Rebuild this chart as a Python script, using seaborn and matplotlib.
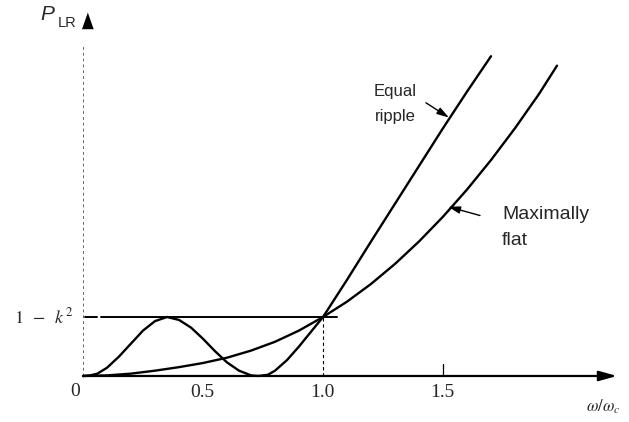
import numpy as np
import pandas as pd
import matplotlib
matplotlib.use("Agg")
import matplotlib.pyplot as plt
import seaborn as sns

# Normalised frequency samples and power-loss ratio (in units of the 1 - k^2 level)
ripple_w = [0.0, 0.03, 0.06, 0.10, 0.15, 0.20, 0.25, 0.30, 0.35, 0.40, 0.45, 0.50,
            0.55, 0.60, 0.65, 0.70, 0.73, 0.77, 0.80, 0.85, 0.90, 0.95, 1.00,
            1.10, 1.20, 1.30, 1.40, 1.50, 1.60, 1.70]
ripple_p = [0.0, 0.01, 0.04, 0.14, 0.33, 0.55, 0.77, 0.93, 1.00, 0.95, 0.82, 0.63,
            0.42, 0.23, 0.09, 0.01, 0.00, 0.02, 0.09, 0.27, 0.50, 0.75, 1.00,
            1.63, 2.28, 2.92, 3.56, 4.20, 4.82, 5.42]

flat_w = [0.0, 0.1, 0.2, 0.3, 0.4, 0.5, 0.6, 0.7, 0.8, 0.9, 1.0,
          1.1, 1.2, 1.3, 1.4, 1.5, 1.6, 1.7, 1.8, 1.9, 1.975]
flat_p = [0.0, 0.01, 0.04, 0.09, 0.15, 0.22, 0.31, 0.43, 0.58, 0.77, 1.00,
          1.26, 1.56, 1.90, 2.28, 2.70, 3.16, 3.66, 4.20, 4.78, 5.26]

ripple_level = 1.0
x_ticks = [0.5, 1.0, 1.5]
x_tick_labels = ["0.5", "1.0", "1.5"]

df = pd.concat([
    pd.DataFrame({"w": ripple_w, "p": ripple_p, "kind": "Equal ripple"}),
    pd.DataFrame({"w": flat_w, "p": flat_p, "kind": "Maximally flat"}),
])

sns.set_theme(style="white")
plt.rcParams["mathtext.fontset"] = "stix"

fig = plt.figure(figsize=(6.29, 4.22), dpi=100)
ax = fig.add_axes([0, 0, 1, 1])
ax.set_xlim(-0.346, 2.275)
ax.set_ylim(-0.78, 6.373)
ax.set_axis_off()

sns.lineplot(data=df, x="w", y="p", hue="kind", palette=["black", "black"],
             linewidth=1.7, legend=False, sort=False, ax=ax, estimator=None)

serif = "Liberation Serif"
sans = "Liberation Sans"

# x axis with arrow
ax.annotate("", xy=(2.225, 0), xytext=(0, 0),
            arrowprops=dict(arrowstyle="-|>,head_length=0.9,head_width=0.25",
                            color="black", lw=1.6, shrinkA=0, shrinkB=0))
# y axis (faint dashed) with arrow head
ax.plot([0, 0], [0, 5.6], color="black", lw=0.7, ls=(0, (3, 3)), alpha=0.6)
ax.annotate("", xy=(0.02, 6.16), xytext=(0.02, 5.95),
            arrowprops=dict(arrowstyle="-|>,head_length=1.0,head_width=0.35",
                            color="black", lw=0.0, shrinkA=0, shrinkB=0))

# 1 - k^2 level
ax.plot([0.01, 0.058], [ripple_level, ripple_level], color="black", lw=1.4)
ax.plot([0.075, 1.06], [ripple_level, ripple_level], color="black", lw=1.4)
ax.plot([1.0, 1.0], [0, ripple_level], color="black", lw=0.8, ls=(0, (3, 2.5)))
ax.plot([1.5, 1.5], [0, 0.2], color="black", lw=0.9)

# tick labels
ax.text(-0.033, -0.26, "0", ha="center", va="center", fontsize=14, family=serif)
for t, lab in zip(x_ticks, x_tick_labels):
    ax.text(t - 0.004, -0.28, lab, ha="center", va="center", fontsize=14, family=serif)
ax.text(-0.04, ripple_level, r"$1\;\;-\;\;k^2$", ha="right", va="center", fontsize=13)

# axis labels
ax.text(-0.15, 6.12, "P", ha="center", va="center", fontsize=15,
        family=sans, style="italic")
ax.text(-0.067, 5.98, "LR", ha="center", va="center", fontsize=10.5, family=sans)
ax.text(2.167, -0.52, r"$\omega/\omega_c$", ha="center", va="center", fontsize=12)

# curve annotations
ax.text(1.392, 4.83, "Equal", ha="right", va="center", fontsize=12, family=sans)
ax.text(1.385, 4.40, "ripple", ha="right", va="center", fontsize=12, family=sans)
ax.annotate("", xy=(1.525, 4.38), xytext=(1.429, 4.63),
            arrowprops=dict(arrowstyle="-|>,head_length=0.6,head_width=0.18",
                            color="black", lw=1.0, shrinkA=0, shrinkB=0))
ax.text(1.746, 2.74, "Maximally", ha="left", va="center", fontsize=14, family=sans)
ax.text(1.746, 2.30, "flat", ha="left", va="center", fontsize=14, family=sans)
ax.annotate("", xy=(1.521, 2.87), xytext=(1.654, 2.72),
            arrowprops=dict(arrowstyle="-|>,head_length=0.6,head_width=0.18",
                            color="black", lw=1.0, shrinkA=0, shrinkB=0))

fig.savefig("out.png", dpi=100)
